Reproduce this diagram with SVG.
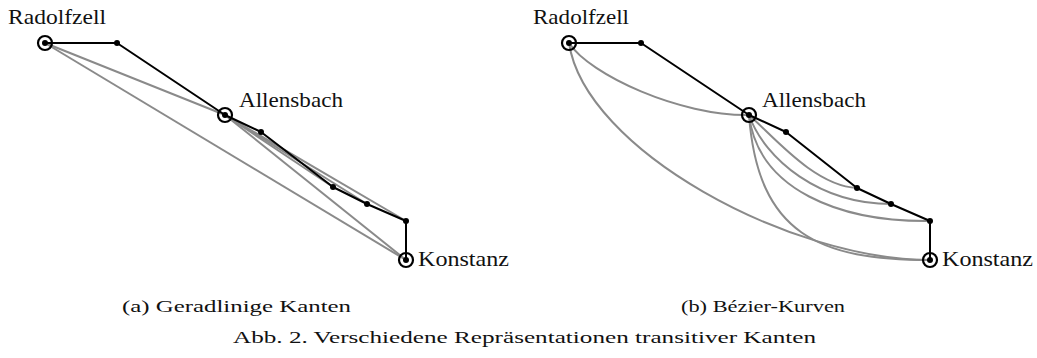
<svg xmlns="http://www.w3.org/2000/svg" width="1037" height="358" viewBox="0 0 1037 358">
  <style>
    .route { fill: none; stroke: #000; stroke-width: 2; stroke-linejoin: round; }
    .trans { fill: none; stroke: #8a8a8a; stroke-width: 2; }
    .ring { fill: none; stroke: #000; stroke-width: 2.2; }
    .dot { fill: #000; }
    .label { font-family: "Liberation Serif", "DejaVu Serif", serif; font-size: 21px; fill: #111; }
    .caption { font-family: "Liberation Serif", "DejaVu Serif", serif; font-size: 17px; fill: #111; }
  </style>

  <!-- (a) straight transitive edges -->
  <g id="edges-a">
    <line class="trans" x1="45" y1="43" x2="225" y2="115"/>
    <line class="trans" x1="45" y1="43" x2="406" y2="260"/>
    <line class="trans" x1="225" y1="115" x2="333" y2="187"/>
    <line class="trans" x1="225" y1="115" x2="367" y2="204"/>
    <line class="trans" x1="225" y1="115" x2="406" y2="221"/>
    <line class="trans" x1="225" y1="115" x2="406" y2="260"/>
    <polyline class="route" points="45,43 117,43 225,115 261,132 333,187 367,204 406,221 406,260"/>
  </g>

  <!-- (b) Bezier transitive edges -->
  <g id="edges-b">
    <path class="trans" d="M569,43 C590,75 680,116 749,115"/>
    <path class="trans" d="M569,43 C585,150 790,260 930,260"/>
    <path class="trans" d="M749,115 C775,138 815,186 857,188"/>
    <path class="trans" d="M749,115 C765,160 820,204 891,204"/>
    <path class="trans" d="M749,115 C758,190 840,222 930,221"/>
    <path class="trans" d="M749,115 C758,235 820,260 930,260"/>
    <polyline class="route" points="569,43 641,43 749,115 786,132 857,188 891,204 930,221 930,260"/>
  </g>

  <!-- (a) stations and bends -->
  <g id="radolfzell-a"><circle class="ring" cx="45" cy="43" r="7"/><circle class="dot" cx="45" cy="43" r="3"/>
    <text class="label" x="8" y="24" textLength="98" lengthAdjust="spacingAndGlyphs">Radolfzell</text></g>
  <g id="allensbach-a"><circle class="ring" cx="225" cy="115" r="7"/><circle class="dot" cx="225" cy="115" r="3"/>
    <text class="label" x="239" y="107" textLength="104" lengthAdjust="spacingAndGlyphs">Allensbach</text></g>
  <g id="konstanz-a"><circle class="ring" cx="406" cy="260" r="7"/><circle class="dot" cx="406" cy="260" r="3"/>
    <text class="label" x="418" y="265.5" textLength="91" lengthAdjust="spacingAndGlyphs">Konstanz</text></g>
  <g id="bends-a">
    <circle class="dot" cx="117" cy="43" r="3"/>
    <circle class="dot" cx="261" cy="132" r="3"/>
    <circle class="dot" cx="333" cy="187" r="3"/>
    <circle class="dot" cx="367" cy="204" r="3"/>
    <circle class="dot" cx="406" cy="221" r="3"/>
  </g>

  <!-- (b) stations and bends -->
  <g id="radolfzell-b"><circle class="ring" cx="569" cy="43" r="7"/><circle class="dot" cx="569" cy="43" r="3"/>
    <text class="label" x="533" y="24" textLength="96" lengthAdjust="spacingAndGlyphs">Radolfzell</text></g>
  <g id="allensbach-b"><circle class="ring" cx="749" cy="115" r="7"/><circle class="dot" cx="749" cy="115" r="3"/>
    <text class="label" x="762" y="107" textLength="104" lengthAdjust="spacingAndGlyphs">Allensbach</text></g>
  <g id="konstanz-b"><circle class="ring" cx="930" cy="260" r="7"/><circle class="dot" cx="930" cy="260" r="3"/>
    <text class="label" x="942" y="265.5" textLength="91" lengthAdjust="spacingAndGlyphs">Konstanz</text></g>
  <g id="bends-b">
    <circle class="dot" cx="641" cy="43" r="3"/>
    <circle class="dot" cx="786" cy="132" r="3"/>
    <circle class="dot" cx="857" cy="188" r="3"/>
    <circle class="dot" cx="891" cy="204" r="3"/>
    <circle class="dot" cx="930" cy="221" r="3"/>
  </g>

  <!-- captions -->
  <g id="captions">
    <text class="caption" x="122" y="311.5" textLength="229" lengthAdjust="spacingAndGlyphs">(a) Geradlinige Kanten</text>
    <text class="caption" x="681" y="311.5" textLength="164" lengthAdjust="spacingAndGlyphs">(b) Bézier-Kurven</text>
    <text class="caption" x="233" y="342.5" textLength="583" lengthAdjust="spacingAndGlyphs">Abb. 2. Verschiedene Repräsentationen transitiver Kanten</text>
  </g>
</svg>
